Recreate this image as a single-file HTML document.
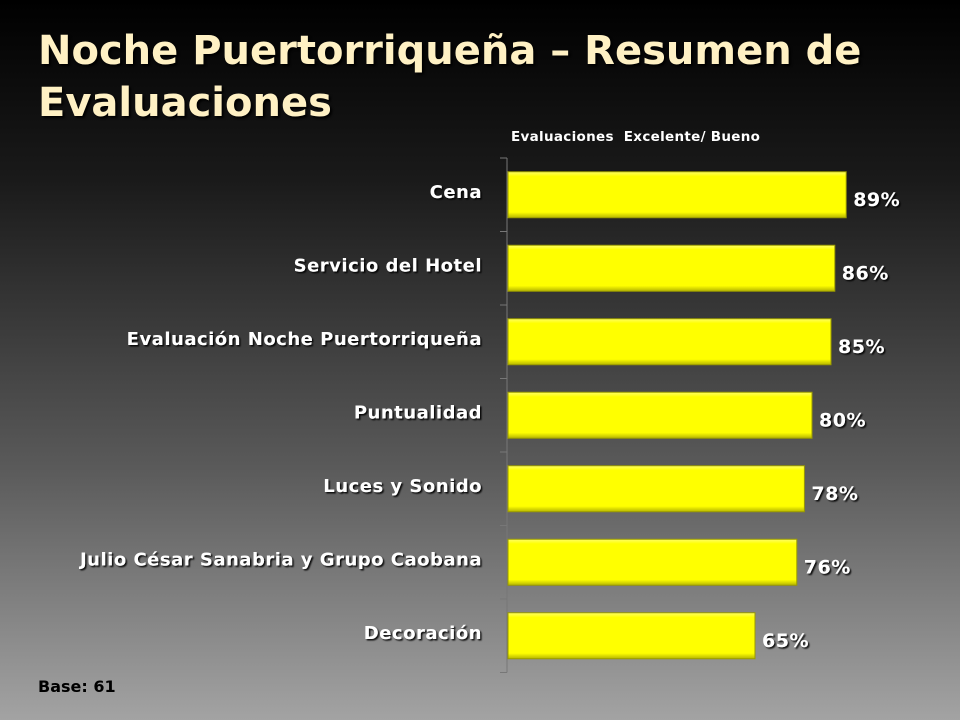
<!DOCTYPE html>
<html><head><meta charset="utf-8"><style>
html,body{margin:0;padding:0}
body{width:960px;height:720px;overflow:hidden;background:linear-gradient(#000 0%,#1a1a1a 25%,#5a5a5a 65%,#a3a3a3 100%);font-family:"Liberation Sans",sans-serif;position:relative}
#title{position:absolute;left:38px;top:25px;color:#fff1c4;font-family:"DejaVu Sans",sans-serif;font-weight:bold;font-size:40px;line-height:52px;margin:0;text-shadow:2px 2px 2px #000}
#sub{position:absolute;left:511px;top:129px;color:#fff;font-family:"DejaVu Sans",sans-serif;font-weight:bold;font-size:13.5px;letter-spacing:0.3px}
#base{position:absolute;left:38px;top:677px;color:#000;font-family:"DejaVu Sans",sans-serif;font-weight:bold;font-size:16px}
</style></head><body>
<h1 id="title">Noche Puertorriqueña – Resumen de<br>Evaluaciones</h1>
<div id="sub">Evaluaciones&nbsp; Excelente/ Bueno</div>
<div id="base">Base: 61</div>
<svg id="chart" width="960" height="720" style="position:absolute;left:0;top:0">
<defs>
<linearGradient id="g" x1="0" y1="0" x2="0" y2="1"><stop offset="0" stop-color="#ffff66"/><stop offset="0.1" stop-color="#ffff00"/><stop offset="0.88" stop-color="#ffff00"/><stop offset="1" stop-color="#b5b500"/></linearGradient>
<filter id="sh"><feDropShadow dx="1.5" dy="1.5" stdDeviation="0.8" flood-color="#000" flood-opacity="0.9"/></filter>
</defs>
</svg>
<script>
const categories=["Cena","Servicio del Hotel","Evaluación Noche Puertorriqueña","Puntualidad","Luces y Sonido","Julio César Sanabria y Grupo Caobana","Decoración"];
const values=[89,86,85,80,78,76,65];
const valueLabels=["89%","86%","85%","80%","78%","76%","65%"];
const svg=document.getElementById('chart');
const NS='http://www.w3.org/2000/svg';
const x0=508,scale=3.8,top0=158,band=73.5,barH=46;
function xs(v){return x0+v*scale;}
function yb(i){return top0+i*band;}
function mk(t,a){const e=document.createElementNS(NS,t);for(const k in a)e.setAttribute(k,a[k]);svg.appendChild(e);return e;}
const ax=mk('line',{x1:507,y1:top0,x2:507,y2:top0+band*categories.length,stroke:'#777','stroke-width':1});


for(let i=0;i<=categories.length;i++){
 const t=mk('line',{x1:500,x2:507,y1:yb(i),y2:yb(i),stroke:'#777','stroke-width':1});
 
 
}
categories.forEach((c,i)=>{
 const y=yb(i)+(band-barH)/2;
 const r=mk('rect',{x:x0,y:y,width:xs(values[i])-x0,height:barH,fill:'url(#g)',stroke:'#9a9a00','stroke-width':1});
 
 
 const l=mk('text',{x:482,y:y+barH/2+3,'text-anchor':'end',fill:'#fff','font-family':'DejaVu Sans, sans-serif','font-weight':'bold','font-size':'18','letter-spacing':'0.5',filter:'url(#sh)'});
 l.textContent=c;
 
 
 const v=mk('text',{x:xs(values[i])+7,y:y+barH/2+11,fill:'#fff','font-family':'DejaVu Sans, sans-serif','font-weight':'bold','font-size':'19','letter-spacing':'0.5',filter:'url(#sh)'});
 v.textContent=valueLabels[i];
 
 
});
</script>
</body></html>
